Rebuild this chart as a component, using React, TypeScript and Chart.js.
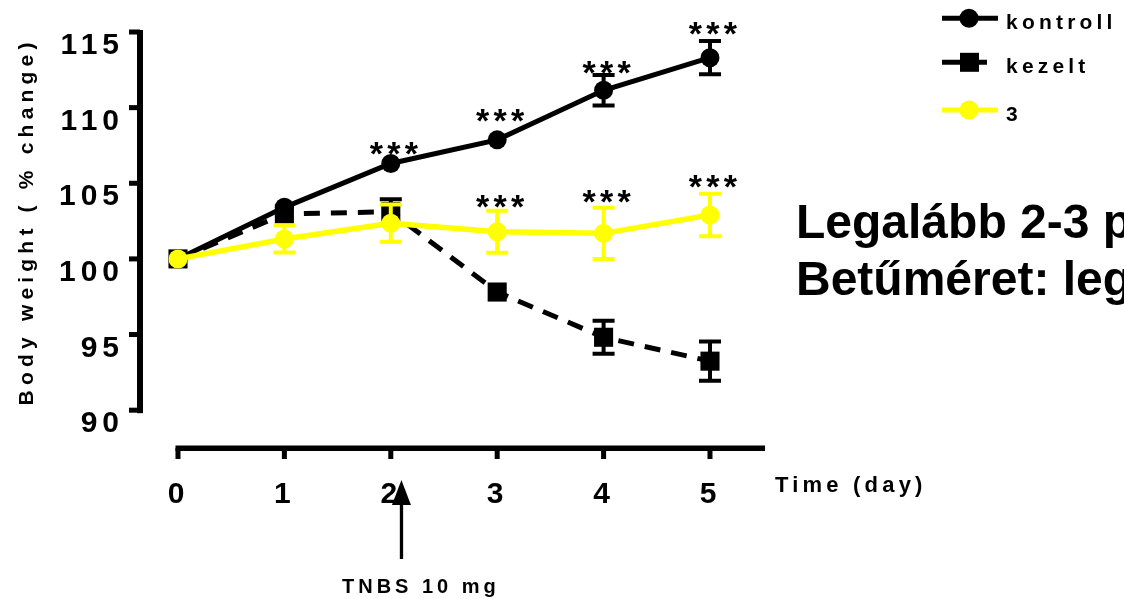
import React, { useEffect, useRef } from "react";
import { Chart, registerables } from "chart.js";

Chart.register(...registerables);

const days = [0, 1, 2, 3, 4, 5];
const xTickLabels = ["0", "1", "2", "3", "4", "5"];
const yTicks = [90, 95, 100, 105, 110, 115];

const kontroll = [100, 103.41, 106.31, 107.87, 111.15, 113.3];
const kontrollErr = [0, 0, 0, 0, 1.01, 1.1];
const kezelt = [100, 102.97, 103.12, 97.81, 94.82, 93.24];
const kezeltErr = [0, 0, 0.82, 0, 1.09, 1.3];
const harmadik = [100, 101.32, 102.36, 101.8, 101.69, 102.9];
const harmadikErr = [0, 0.9, 1.23, 1.39, 1.7, 1.41];

const kontrollStars = [null, null, 107.3, 109.5, 112.68, 115.22];
const harmadikStars = [null, null, null, 103.78, 104.11, 105.1];

const seriesNames = ["kontroll", "kezelt", "3"];
const yTitle = "Body weight ( % change)";
const xTitle = "Time (day)";
const arrowLabel = "TNBS 10 mg";
const noteLines = ["Legalább 2-3 p", "Betűméret: leg"];
const arrowDay = 2.1;

const FONT = "'Liberation Sans', Arial, Helvetica, sans-serif";
const YELLOW = "#FFFF00";

const errSets = [
  { vals: kontroll, errs: kontrollErr, color: "#000000" },
  { vals: kezelt, errs: kezeltErr, color: "#000000" },
  { vals: harmadik, errs: harmadikErr, color: YELLOW },
];

const customPlugin = {
  id: "prismStyle",
  beforeDatasetsDraw(chart: any) {
    const ctx = chart.ctx;
    const xs = chart.scales.x;
    const ys = chart.scales.y;
    ctx.save();
    ctx.fillStyle = "#000";
    const yAxisX = 140;
    const yTop = ys.getPixelForValue(115);
    const yBot = ys.getPixelForValue(90);
    ctx.fillRect(yAxisX - 3, yTop - 2, 6, yBot - yTop + 5);
    yTicks.forEach((t) => {
      const py = ys.getPixelForValue(t);
      ctx.fillRect(yAxisX - 11, py - 2.5, 11, 5);
    });
    const xAxisY = ys.getPixelForValue(ys.min);
    const x0 = xs.getPixelForValue(0);
    const xEnd = xs.right;
    ctx.fillRect(x0 - 2.5, xAxisY - 2.5, xEnd - x0 + 2.5, 5.5);
    days.forEach((d) => {
      const px = xs.getPixelForValue(d);
      ctx.fillRect(px - 2.5, xAxisY, 5, 11);
    });
    ctx.restore();
  },
  beforeDatasetDraw(chart: any, args: any) {
    const set = errSets[args.index];
    if (!set) return;
    const ctx = chart.ctx;
    const xs = chart.scales.x;
    const ys = chart.scales.y;
    ctx.save();
    ctx.strokeStyle = set.color;
    ctx.lineWidth = 4;
    ctx.lineCap = "butt";
    set.errs.forEach((e, i) => {
      if (!e) return;
      const px = xs.getPixelForValue(days[i]);
      const top = ys.getPixelForValue(set.vals[i] + e);
      const bot = ys.getPixelForValue(set.vals[i] - e);
      ctx.beginPath();
      ctx.moveTo(px, top);
      ctx.lineTo(px, bot);
      ctx.moveTo(px - 11, top);
      ctx.lineTo(px + 11, top);
      ctx.moveTo(px - 11, bot);
      ctx.lineTo(px + 11, bot);
      ctx.stroke();
    });
    ctx.restore();
  },
  afterDatasetsDraw(chart: any) {
    const ctx = chart.ctx;
    const xs = chart.scales.x;
    const ys = chart.scales.y;
    ctx.save();
    ctx.fillStyle = "#000";
    ctx.font = `bold 34px ${FONT}`;
    ctx.textAlign = "center";
    ctx.textBaseline = "alphabetic";
    const m = ctx.measureText("*");
    const off = (m.actualBoundingBoxAscent - m.actualBoundingBoxDescent) / 2;
    const drawStars = (arr: (number | null)[]) => {
      arr.forEach((v, i) => {
        if (v == null) return;
        const px = xs.getPixelForValue(days[i]) + 3;
        const py = ys.getPixelForValue(v) + off;
        [-17.5, 0, 17.5].forEach((dx) => ctx.fillText("*", px + dx, py));
      });
    };
    drawStars(kontrollStars);
    drawStars(harmadikStars);
    ctx.restore();
  },
  afterDraw(chart: any) {
    const ctx = chart.ctx;
    const xs = chart.scales.x;
    const ys = chart.scales.y;
    ctx.save();
    ctx.fillStyle = "#000";
    ctx.font = `bold 30px ${FONT}`;
    (ctx as any).letterSpacing = "5px";
    ctx.textAlign = "right";
    ctx.textBaseline = "alphabetic";
    yTicks.forEach((t) => {
      ctx.fillText(String(t), 124, ys.getPixelForValue(t) + 22);
    });
    (ctx as any).letterSpacing = "0px";
    ctx.font = `bold 30px ${FONT}`;
    ctx.textAlign = "center";
    days.forEach((d, i) => {
      ctx.fillText(xTickLabels[i], xs.getPixelForValue(d) - 2, 503);
    });
    ctx.save();
    ctx.translate(33, 224);
    ctx.rotate(-Math.PI / 2);
    ctx.font = `bold 21px ${FONT}`;
    (ctx as any).letterSpacing = "5.2px";
    ctx.textAlign = "center";
    ctx.fillText(yTitle, 2.6, 0);
    ctx.restore();
    ctx.font = `bold 22px ${FONT}`;
    (ctx as any).letterSpacing = "4.2px";
    ctx.textAlign = "left";
    ctx.fillText(xTitle, 775, 492);
    const ax = xs.getPixelForValue(arrowDay);
    ctx.fillRect(ax - 1.6, 503, 3.3, 56);
    ctx.beginPath();
    ctx.moveTo(ax, 480);
    ctx.lineTo(ax - 9.5, 505);
    ctx.lineTo(ax + 9.5, 505);
    ctx.closePath();
    ctx.fill();
    ctx.font = `bold 20px ${FONT}`;
    (ctx as any).letterSpacing = "4px";
    ctx.fillText(arrowLabel, 342, 593);
    const legY = [18.3, 62.3, 110];
    const txtY = [29.3, 72.7, 120.7];
    ctx.lineWidth = 5;
    ctx.strokeStyle = "#000";
    ctx.beginPath();
    ctx.moveTo(942, legY[0]);
    ctx.lineTo(998, legY[0]);
    ctx.stroke();
    ctx.beginPath();
    ctx.arc(969, legY[0], 9.5, 0, Math.PI * 2);
    ctx.fill();
    ctx.beginPath();
    ctx.moveTo(942, legY[1]);
    ctx.lineTo(987, legY[1]);
    ctx.stroke();
    ctx.fillRect(960, legY[1] - 9.5, 19, 19);
    ctx.strokeStyle = YELLOW;
    ctx.fillStyle = YELLOW;
    ctx.beginPath();
    ctx.moveTo(942, legY[2]);
    ctx.lineTo(998, legY[2]);
    ctx.stroke();
    ctx.beginPath();
    ctx.arc(969, legY[2], 9.5, 0, Math.PI * 2);
    ctx.fill();
    ctx.fillStyle = "#000";
    ctx.font = `bold 21px ${FONT}`;
    (ctx as any).letterSpacing = "4.2px";
    seriesNames.forEach((n, i) => ctx.fillText(n, 1006, txtY[i]));
    (ctx as any).letterSpacing = "0px";
    ctx.font = `bold 48px ${FONT}`;
    ctx.fillText(noteLines[0], 796, 238);
    ctx.fillText(noteLines[1], 796, 295);
    ctx.restore();
  },
};

export default function App() {
  const ref = useRef<HTMLCanvasElement | null>(null);
  useEffect(() => {
    document.body.style.margin = "0";
    const canvas = ref.current;
    if (!canvas) return;
    const toXY = (arr: number[]) => days.map((d, i) => ({ x: d, y: arr[i] }));
    const chart = new Chart(canvas, {
      type: "line",
      data: {
        datasets: [
          {
            label: seriesNames[0],
            data: toXY(kontroll),
            borderColor: "#000",
            backgroundColor: "#000",
            borderWidth: 5,
            pointStyle: "circle",
            pointRadius: 9.5,
            pointBorderWidth: 0,
            pointBackgroundColor: "#000",
            tension: 0,
            clip: false as any,
            order: 3,
          },
          {
            label: seriesNames[1],
            data: toXY(kezelt),
            borderColor: "#000",
            backgroundColor: "#000",
            borderWidth: 5,
            borderDash: [16, 11],
            pointStyle: "rect",
            pointRadius: 13.5,
            pointBorderWidth: 0,
            pointBackgroundColor: "#000",
            tension: 0,
            clip: false as any,
            order: 2,
          },
          {
            label: seriesNames[2],
            data: toXY(harmadik),
            borderColor: YELLOW,
            backgroundColor: YELLOW,
            borderWidth: 5.5,
            pointStyle: "circle",
            pointRadius: 9.5,
            pointBorderWidth: 0,
            pointBackgroundColor: YELLOW,
            tension: 0,
            clip: false as any,
            order: 1,
          },
        ],
      },
      options: {
        animation: false,
        responsive: false,
        devicePixelRatio: 1,
        layout: { padding: { left: 140, right: 359, top: 32, bottom: 151 } },
        plugins: { legend: { display: false }, tooltip: { enabled: false } },
        events: [],
        scales: {
          x: { type: "linear", min: -0.357, max: 5.517, display: false },
          y: { type: "linear", min: 87.5, max: 115, display: false },
        },
      },
      plugins: [customPlugin],
    });
    return () => chart.destroy();
  }, []);
  return (
    <div style={{ width: 1124, height: 599, background: "#fff" }}>
      <canvas ref={ref} width={1124} height={599} style={{ display: "block" }} />
    </div>
  );
}
